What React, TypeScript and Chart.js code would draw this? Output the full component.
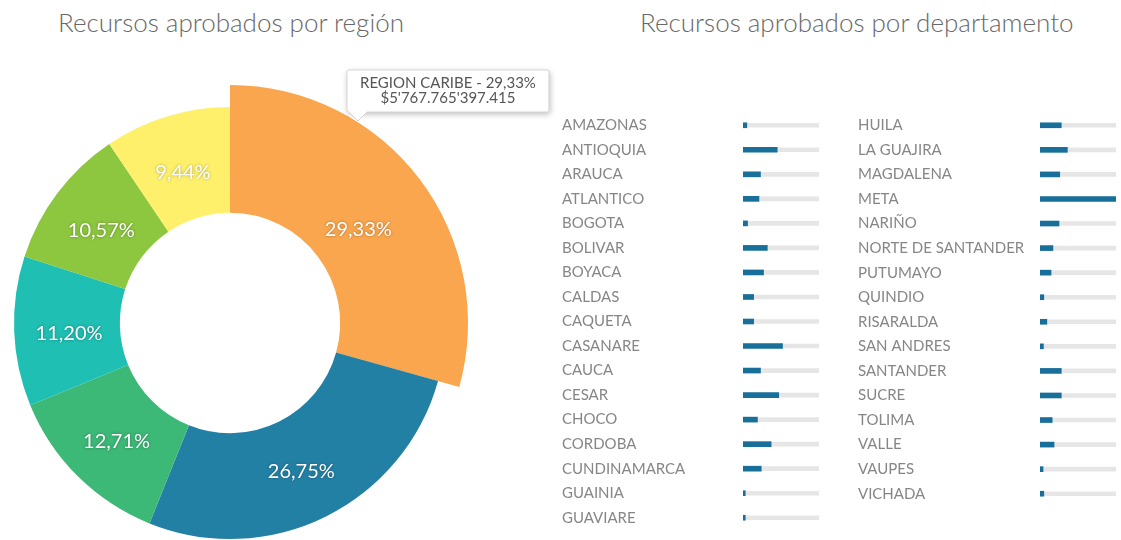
import React, { useEffect, useRef } from 'react';
import { Chart, registerables, Tooltip } from 'chart.js';

Chart.register(...registerables);
Chart.defaults.font.family = 'Lato';

// ---------- Data ----------
const TITULO_REGION = 'Recursos aprobados por región';
const TITULO_DEPTO = 'Recursos aprobados por departamento';

const REGIONES = [
  'REGION CARIBE',
  'REGION LLANO',
  'REGION CENTRO ORIENTE',
  'REGION PACIFICO',
  'REGION CENTRO SUR',
  'REGION EJE CAFETERO',
];
const REGION_PCT = [29.33, 26.75, 12.71, 11.2, 10.57, 9.44];
const REGION_MONTOS = [
  5767765397415, 5260406559000, 2499430556000, 2202487980000, 2078598031000, 1856382726000,
];
const REGION_COLORES = ['#F9A64E', '#2380A5', '#3CB877', '#1FBFB3', '#8DC63F', '#FEF06B'];

const DEPTOS_A = [
  'AMAZONAS', 'ANTIOQUIA', 'ARAUCA', 'ATLANTICO', 'BOGOTA', 'BOLIVAR', 'BOYACA', 'CALDAS',
  'CAQUETA', 'CASANARE', 'CAUCA', 'CESAR', 'CHOCO', 'CORDOBA', 'CUNDINAMARCA', 'GUAINIA', 'GUAVIARE',
];
const VALORES_A = [5, 45, 23, 21, 6, 32, 27, 14, 14, 52, 23, 47, 19, 37, 24, 3, 3];

const DEPTOS_B = [
  'HUILA', 'LA GUAJIRA', 'MAGDALENA', 'META', 'NARIÑO', 'NORTE DE SANTANDER', 'PUTUMAYO', 'QUINDIO',
  'RISARALDA', 'SAN ANDRES', 'SANTANDER', 'SUCRE', 'TOLIMA', 'VALLE', 'VAUPES', 'VICHADA',
];
const VALORES_B = [28, 36, 26, 100, 25, 17, 14.5, 5, 9, 4.5, 28, 28, 16, 18.5, 4, 5];

const ESCALA_MAX = 100;

// ---------- Helpers ----------
function formatPct(v: number) {
  return v.toFixed(2).replace('.', ',');
}
function formatPesos(v: number) {
  const s = Math.round(v).toString();
  const groups: string[] = [];
  for (let i = s.length; i > 0; i -= 3) groups.unshift(s.slice(Math.max(0, i - 3), i));
  let out = groups[0];
  for (let g = 1; g < groups.length; g++) {
    const fromRight = groups.length - g; // 1 => thousands
    out += (fromRight % 2 === 1 ? '.' : "'") + groups[g];
  }
  return '$' + out;
}

(Tooltip as any).positioners.caribe = function (elements: any[]) {
  if (!elements.length) return false;
  const el = elements[0].element;
  return { x: el.x + 128, y: el.y - 200 };
};

const enlargeFirst = {
  id: 'enlargeFirst',
  beforeDatasetsDraw(chart: any) {
    const meta = chart.getDatasetMeta(0);
    if (meta.data.length > 1) {
      meta.data[0].outerRadius = meta.data[1].outerRadius + 22;
    }
  },
};

const sliceLabels = {
  id: 'sliceLabels',
  afterDatasetsDraw(chart: any) {
    const ctx = chart.ctx;
    const meta = chart.getDatasetMeta(0);
    const baseOuter = meta.data[1].outerRadius;
    ctx.save();
    ctx.font = '20px Lato';
    ctx.textAlign = 'center';
    ctx.textBaseline = 'middle';
    ctx.fillStyle = '#ffffff';
    ctx.shadowColor = 'rgba(0,0,0,0.35)';
    ctx.shadowBlur = 3;
    meta.data.forEach((arc: any, i: number) => {
      const mid = (arc.startAngle + arc.endAngle) / 2;
      const r = (arc.innerRadius + baseOuter) / 2 - 2;
      const x = arc.x + Math.cos(mid) * r;
      const y = arc.y + Math.sin(mid) * r + 4;
      ctx.fillText(formatPct(REGION_PCT[i]) + '%', x, y);
    });
    ctx.restore();
  },
};

const tooltipShadow = {
  id: 'tooltipShadow',
  beforeTooltipDraw(chart: any, args: any) {
    const t = args.tooltip;
    if (!t || !t.opacity) return;
    const ctx = chart.ctx;
    ctx.save();
    ctx.shadowColor = 'rgba(0,0,0,0.28)';
    ctx.shadowBlur = 6;
    ctx.shadowOffsetX = 1;
    ctx.shadowOffsetY = 2;
    ctx.fillStyle = '#ffffff';
    ctx.fillRect(t.x, t.y, t.width, t.height);
    ctx.restore();
  },
};

// ---------- Components ----------
function Donut() {
  const ref = useRef<HTMLCanvasElement | null>(null);
  useEffect(() => {
    if (!ref.current) return;
    const chart = new Chart(ref.current, {
      type: 'doughnut',
      data: {
        labels: REGIONES,
        datasets: [
          {
            data: REGION_PCT,
            backgroundColor: REGION_COLORES,
            borderWidth: 0,
          },
        ],
      },
      options: {
        responsive: false,
        animation: false,
        events: [],
        cutout: '51%',
        layout: { padding: { left: 24, right: 114, top: 47, bottom: 21 } },
        plugins: {
          legend: { display: false },
          tooltip: {
            enabled: true,
            position: 'caribe' as any,
            xAlign: 'left',
            yAlign: 'bottom',
            backgroundColor: '#ffffff',
            borderColor: '#d6d6d6',
            borderWidth: 1,
            titleColor: '#555555',
            bodyColor: '#555555',
            titleFont: { family: 'Lato', size: 15, weight: 'normal', lineHeight: 1.0 },
            bodyFont: { family: 'Lato', size: 15, lineHeight: 1.0 },
            titleAlign: 'center',
            bodyAlign: 'center',
            titleMarginBottom: 0,
            titleSpacing: 0,
            bodySpacing: 0,
            padding: { top: 6, bottom: 6, left: 13, right: 13 },
            caretSize: 9,
            caretPadding: 2,
            cornerRadius: 2,
            displayColors: false,
            callbacks: {
              title: (items: any[]) =>
                items.length ? `${REGIONES[items[0].dataIndex]} - ${formatPct(REGION_PCT[items[0].dataIndex])}%` : '',
              label: (ctx: any) => formatPesos(REGION_MONTOS[ctx.dataIndex]),
            },
          },
        },
      },
      plugins: [enlargeFirst, sliceLabels, tooltipShadow],
    });
    chart.tooltip?.setActiveElements([{ datasetIndex: 0, index: 0 }], { x: 0, y: 0 });
    chart.update();
    return () => chart.destroy();
  }, []);
  return (
    <canvas
      ref={ref}
      width={570}
      height={500}
      style={{ position: 'absolute', left: -10, top: 60, width: 570, height: 500 }}
    />
  );
}

function BarList(props: {
  labels: string[];
  values: number[];
  left: number;
  top: number;
  width: number;
  height: number;
  axisWidth: number;
}) {
  const { labels, values, left, top, width, height, axisWidth } = props;
  const ref = useRef<HTMLCanvasElement | null>(null);
  useEffect(() => {
    if (!ref.current) return;
    const track = labels.map(() => ESCALA_MAX);
    const chart = new Chart(ref.current, {
      type: 'bar',
      data: {
        labels,
        datasets: [
          { data: values, backgroundColor: '#18709A', barThickness: 5, grouped: false } as any,
          { data: track, backgroundColor: '#E6E6E6', barThickness: 4, grouped: false } as any,
        ],
      },
      options: {
        indexAxis: 'y',
        responsive: false,
        animation: false,
        events: [],
        layout: { padding: 0 },
        plugins: { legend: { display: false }, tooltip: { enabled: false } },
        scales: {
          x: { display: false, min: 0, max: ESCALA_MAX },
          y: {
            grid: { display: false },
            border: { display: false },
            ticks: {
              crossAlign: 'far',
              autoSkip: false,
              padding: 0,
              color: '#868686',
              font: { family: 'Lato', size: 15, lineHeight: 1.2 },
            },
            afterFit: (scale: any) => {
              scale.width = axisWidth;
            },
          },
        },
      },
    });
    return () => chart.destroy();
  }, []);
  return (
    <canvas
      ref={ref}
      width={width}
      height={height}
      style={{ position: 'absolute', left, top, width, height }}
    />
  );
}

export default function App() {
  const titleStyle: React.CSSProperties = {
    position: 'absolute',
    top: 6,
    textAlign: 'center',
    fontFamily: 'Lato',
    fontWeight: 300,
    fontSize: 26,
    lineHeight: '32px',
    color: '#686868',
    whiteSpace: 'nowrap',
  };
  // bar charts: category axis reserves half a label height (15*1.2/2 = 9px) at top and bottom
  return (
    <div
      style={{
        position: 'absolute',
        left: 0,
        top: 0,
        width: 1121,
        height: 540,
        overflow: 'hidden',
        background: '#ffffff',
      }}
    >
      <div style={{ ...titleStyle, left: 0, width: 462 }}>{TITULO_REGION}</div>
      <div style={{ ...titleStyle, left: 640, width: 430 }}>{TITULO_DEPTO}</div>
      <Donut />
      <BarList labels={DEPTOS_A} values={VALORES_A} left={562} top={104} width={257} height={435} axisWidth={181} />
      <BarList labels={DEPTOS_B} values={VALORES_B} left={858} top={104} width={258} height={411} axisWidth={182} />
    </div>
  );
}
